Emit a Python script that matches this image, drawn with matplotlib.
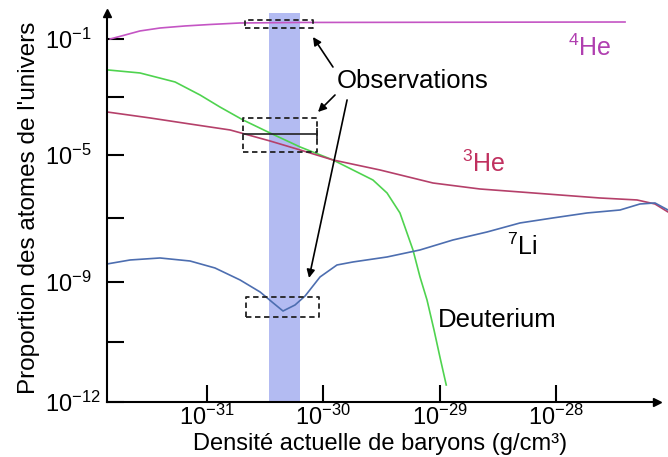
import matplotlib
matplotlib.use("Agg")
import matplotlib.pyplot as plt
from matplotlib.ticker import NullLocator
import numpy as np

plt.rcParams['font.family'] = ['Liberation Sans', 'DejaVu Sans']
plt.rcParams['mathtext.fontset'] = 'custom'
plt.rcParams['mathtext.rm'] = 'Liberation Sans'
plt.rcParams['mathtext.it'] = 'Liberation Sans:italic'
plt.rcParams['mathtext.bf'] = 'Liberation Sans:bold'

# densité actuelle de baryons (g/cm3) et proportions
he4_x = [1.47e-32, 1.97e-32, 2.65e-32, 3.94e-32, 6.47e-32, 1.06e-31, 1.92e-31, 6.3e-31, 3.93e-28]
he4_y = [0.1, 0.137, 0.189, 0.239, 0.281, 0.316, 0.356, 0.371, 0.385]

deut_x = [1.41e-32, 2.65e-32, 5.31e-32, 8.71e-32, 1.29e-31, 2.04e-31, 3.48e-31, 6.31e-31, 1.21e-30,
          2.67e-30, 3.53e-30, 4.56e-30, 5.90e-30, 6.78e-30, 7.79e-30, 8.95e-30, 1.01e-29, 1.14e-29]
deut_y = [8.53e-3, 6.73e-3, 3.29e-3, 1.17e-3, 4.52e-4, 1.61e-4, 5.74e-5, 1.89e-5, 6.97e-6,
          1.63e-6, 6.35e-7, 1.49e-7, 1.02e-8, 1.44e-9, 3.55e-10, 6.3e-11, 1.26e-11, 2.66e-12]

he3_x = [1.38e-32, 3.24e-32, 7.14e-32, 1.58e-31, 3.48e-31, 6.31e-31, 1.21e-30, 3.07e-30,
         8.77e-30, 2.22e-29, 4.91e-29, 1.08e-28, 2.39e-28, 4.98e-28, 7.11e-28, 9.20e-28]
he3_y = [3.04e-4, 1.89e-4, 1.17e-4, 7.28e-5, 3.04e-5, 1.49e-5, 6.97e-6, 3.37e-6,
         1.31e-6, 8.49e-7, 6.84e-7, 5.50e-7, 4.42e-7, 3.83e-7, 2.86e-7, 1.60e-7]

li7_x = [1.38e-32, 2.18e-32, 3.94e-32, 7.14e-32, 1.17e-31, 1.92e-31, 2.86e-31, 3.62e-31, 4.50e-31,
         5.71e-31, 6.97e-31, 9.37e-31, 1.31e-30, 1.80e-30, 3.53e-30, 6.78e-30, 1.30e-29, 2.56e-29,
         4.91e-29, 9.44e-29, 1.85e-28, 3.56e-28, 5.28e-28, 7.11e-28, 9.20e-28]
li7_y = [3.69e-9, 4.93e-9, 5.70e-9, 4.58e-9, 2.76e-9, 1.16e-9, 5.62e-10, 3.16e-10, 1.88e-10,
         2.66e-10, 4.47e-10, 1.44e-9, 3.43e-9, 4.27e-9, 6.13e-9, 1.02e-8, 2.10e-8, 3.76e-8,
         7.22e-8, 1.04e-7, 1.49e-7, 1.85e-7, 2.86e-7, 3.08e-7, 1.85e-7]

# bande de densité compatible avec les observations
band = (3.41e-31, 6.31e-31)

# boîtes des observations (4He, 3He/D, 7Li)
obs_x = [(2.12e-31, 8.15e-31), (2.04e-31, 8.83e-31), (2.16e-31, 9.18e-31)]
obs_y = [(0.239, 0.452), (1.27e-5, 1.89e-4), (1.33e-10, 4.22e-10)]
err_x = (2.04e-31, 8.83e-31)
err_y = 5.30e-5

x_ticks = [1e-31, 1e-30, 1e-29, 1e-28]
x_labels = [r'$\mathregular{10^{-31}}$', r'$\mathregular{10^{-30}}$',
            r'$\mathregular{10^{-29}}$', r'$\mathregular{10^{-28}}$']
y_ticks = [1e-1, 1e-3, 1e-5, 1e-7, 1e-9, 10 ** -10.5, 1e-12]
y_labels = [r'$\mathregular{10^{-1}}$', '', r'$\mathregular{10^{-5}}$', '',
            r'$\mathregular{10^{-9}}$', '', r'$\mathregular{10^{-12}}$']

# l'axe vertical de l'original n'est pas régulier : échelle log par morceaux
LOG_KNOTS = [-20, -12, -9, -5, -1, 3]
PIX_KNOTS = [-320, 0, 120, 247, 363, 479]


def fwd(v):
    v = np.asarray(v, dtype=float)
    return np.interp(np.log10(np.clip(v, 1e-40, None)), LOG_KNOTS, PIX_KNOTS)


def inv(h):
    return 10 ** np.interp(np.asarray(h, dtype=float), PIX_KNOTS, LOG_KNOTS)


fig = plt.figure(figsize=(6.68, 4.57), dpi=100)
ax = fig.add_axes([0.1602, 0.1204, 0.8398, 0.8512])
ax.set_xscale('log')
ax.set_yscale('function', functions=(fwd, inv))
ax.set_xlim(1.38e-32, 9.2e-28)
ax.set_ylim(1e-12, 0.788)

ax.axvspan(band[0], band[1], color='#b3bbf2', lw=0, zorder=0)

ax.plot(he4_x, he4_y, color='#c455c4', lw=1.2)
ax.plot(deut_x, deut_y, color='#4fd34f', lw=1.2)
ax.plot(he3_x, he3_y, color='#b5406a', lw=1.2)
ax.plot(li7_x, li7_y, color='#4d6eb0', lw=1.2)

for (x0, x1), (y0, y1) in zip(obs_x, obs_y):
    ax.plot([x0, x1, x1, x0, x0], [y0, y0, y1, y1, y0], color='#222222',
            lw=1.3, linestyle=(0, (3, 2)), zorder=4)
ax.plot(err_x, [err_y, err_y], color='#222222', lw=1.2, zorder=4)
ax.plot([err_x[1]], [err_y], marker='|', ms=9, mew=1.2, color='#222222', zorder=4)

arrow = dict(arrowstyle='-|>', color='black', lw=1.2, shrinkA=0, shrinkB=0, mutation_scale=12)
ax.annotate('', xy=(8.15e-31, 0.117), xytext=(1.21e-30, 1.08e-2), arrowprops=arrow)
ax.annotate('', xy=(9.0e-31, 3.04e-4), xytext=(1.26e-30, 1.17e-3), arrowprops=arrow)
ax.annotate('', xy=(7.53e-31, 1.34e-9), xytext=(1.60e-30, 7.89e-4), arrowprops=arrow)

ax.text(1.31e-30, 3.56e-3, 'Observations', fontsize=18.5, ha='left', va='center')
ax.text(1.27e-28, 4.9e-2, r'$\mathregular{^4}$He', fontsize=18, color='#b03fb0', ha='left', va='center')
ax.text(1.56e-29, 5.21e-6, r'$\mathregular{^3}$He', fontsize=18, color='#c0305f', ha='left', va='center')
ax.text(3.80e-29, 1.26e-8, r'$\mathregular{^7}$Li', fontsize=18, ha='left', va='center')
ax.text(9.68e-30, 1.12e-10, 'Deuterium', fontsize=18.5, ha='left', va='center')

# axes avec flèches
for side in ['top', 'right']:
    ax.spines[side].set_visible(False)
ax.spines['left'].set_linewidth(1.5)
ax.spines['bottom'].set_linewidth(1.5)
x_end = 10 ** -27.13
ax.spines['bottom'].set_bounds(1.38e-32, x_end)
ax.plot([x_end], [0], marker='>', ms=6, color='black', clip_on=False,
        transform=ax.get_xaxis_transform())
ax.plot([0], [1], marker='^', ms=6, color='black', clip_on=False, transform=ax.transAxes)

ax.set_xticks(x_ticks, labels=x_labels)
ax.set_yticks(y_ticks, labels=y_labels)
ax.xaxis.set_minor_locator(NullLocator())
ax.yaxis.set_minor_locator(NullLocator())
ax.tick_params(axis='both', direction='in', length=12, width=1.5, labelsize=17)
ax.tick_params(axis='x', pad=2)
ax.tick_params(axis='y', pad=44.6)
for lbl in ax.get_yticklabels():
    lbl.set_horizontalalignment('left')

ax.set_xlabel('Densité actuelle de baryons (g/cm³)', fontsize=17)
ax.xaxis.set_label_coords(0.487, -0.080)
ax.xaxis.label.set_verticalalignment('top')
ax.set_ylabel("Proportion des atomes de l'univers", fontsize=17.5, labelpad=4)

fig.savefig('out.png', dpi=100)
